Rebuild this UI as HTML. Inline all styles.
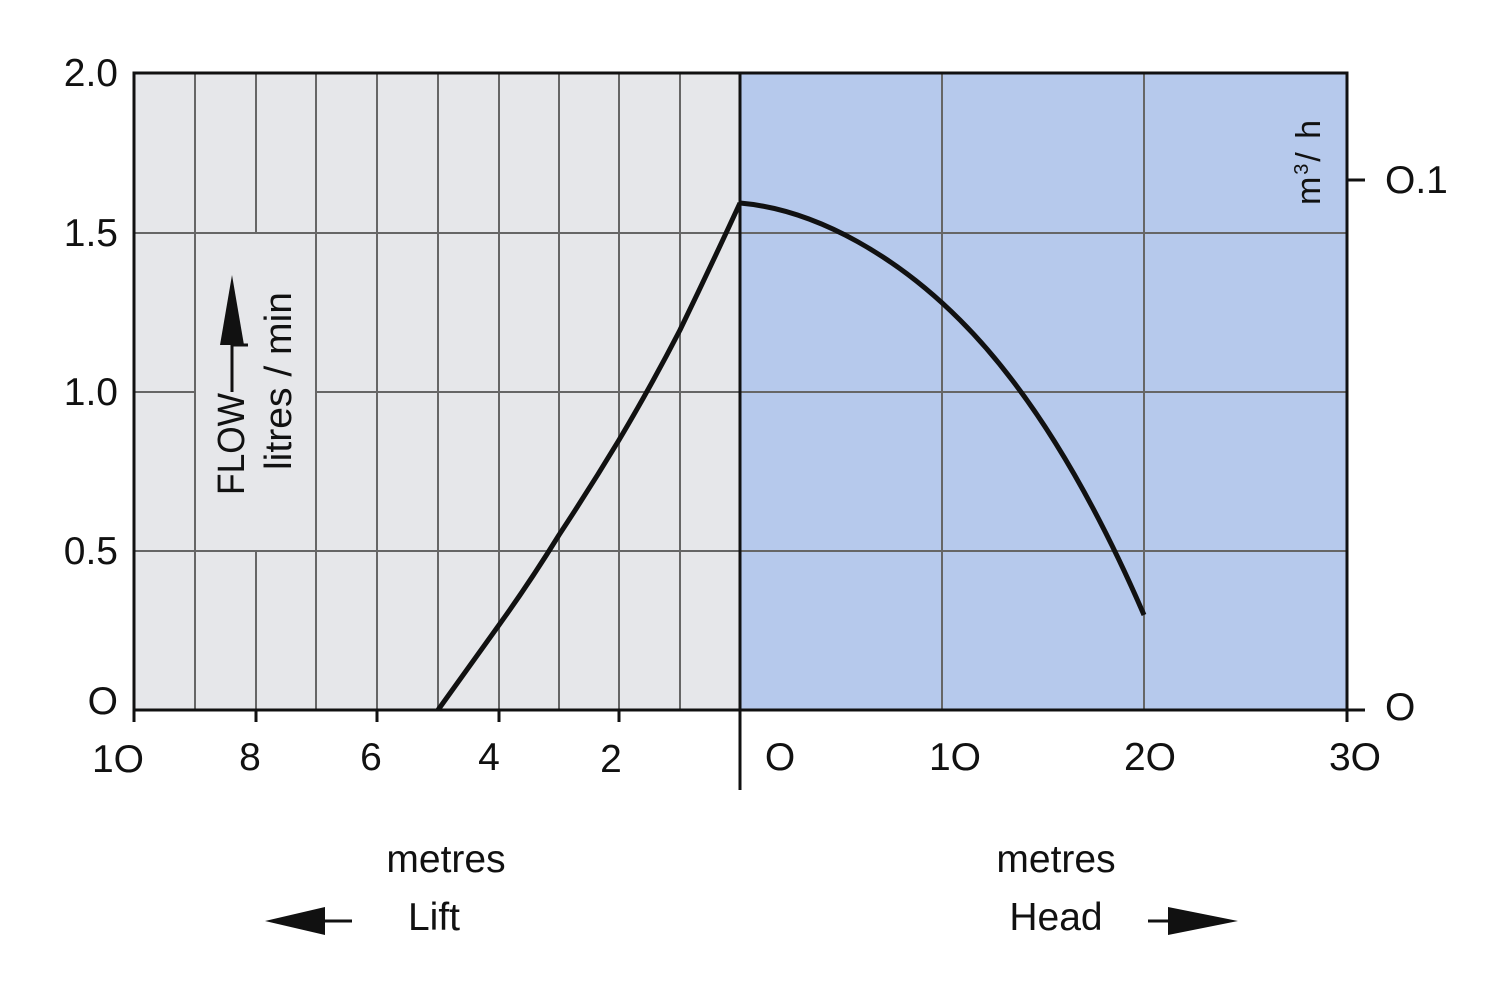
<!DOCTYPE html>
<html><head><style>body{margin:0;background:#fff}svg{display:block}text{font-family:"Liberation Sans",sans-serif;fill:#111}</style></head><body>
<svg width="1500" height="998" viewBox="0 0 1500 998">
<rect x="134" y="73" width="606" height="637" fill="#e6e7ea"/>
<rect x="740" y="73" width="607" height="637" fill="#b6c9ec"/>
<g stroke="#666" stroke-width="2">
<line x1="195" y1="73" x2="195" y2="710"/>
<line x1="256" y1="73" x2="256" y2="233"/><line x1="256" y1="551" x2="256" y2="710"/>
<line x1="316" y1="73" x2="316" y2="710"/><line x1="377" y1="73" x2="377" y2="710"/>
<line x1="438" y1="73" x2="438" y2="710"/><line x1="499" y1="73" x2="499" y2="710"/>
<line x1="559" y1="73" x2="559" y2="710"/><line x1="619" y1="73" x2="619" y2="710"/>
<line x1="680" y1="73" x2="680" y2="710"/>
<line x1="942" y1="73" x2="942" y2="710"/><line x1="1144" y1="73" x2="1144" y2="710"/>
<line x1="134" y1="233" x2="1347" y2="233"/>
<line x1="134" y1="392" x2="195" y2="392"/><line x1="316" y1="392" x2="1347" y2="392"/>
<line x1="134" y1="551" x2="1347" y2="551"/>
</g>
<g stroke="#111" stroke-width="3" fill="none">
<rect x="134" y="73" width="1213" height="637"/>
<line x1="740" y1="73" x2="740" y2="790"/>
<line x1="134" y1="710" x2="134" y2="722"/><line x1="256" y1="710" x2="256" y2="722"/>
<line x1="377" y1="710" x2="377" y2="722"/><line x1="499" y1="710" x2="499" y2="722"/>
<line x1="619" y1="710" x2="619" y2="722"/><line x1="1347" y1="710" x2="1347" y2="722"/>
<line x1="1347" y1="180" x2="1365" y2="180"/><line x1="1347" y1="710" x2="1365" y2="710"/>
<path stroke-width="5" d="M438,710 L499,625 Q530,582 559,535 Q590,488 619,440 Q650,388 680,330 Q710,268 740,203"/>
<path stroke-width="5" d="M740,203 C820,210 900,260 960,320 C1030,390 1090,490 1144,615"/>
</g>
<g font-size="39" text-anchor="end">
<text x="118" y="86">2.0</text><text x="118" y="246">1.5</text><text x="118" y="405">1.0</text><text x="118" y="564">0.5</text><text x="118" y="714">O</text>
</g>
<g font-size="39" text-anchor="middle">
<text x="118" y="772">1O</text><text x="250" y="770">8</text><text x="371" y="770">6</text><text x="489" y="770">4</text><text x="611" y="772">2</text>
<text x="780" y="770">O</text><text x="955" y="770">1O</text><text x="1150" y="770">2O</text><text x="1355" y="770">3O</text>
</g>
<text x="1385" y="193" font-size="39">O.1</text><text x="1385" y="720" font-size="39">O</text>
<text transform="translate(1320,205) rotate(-90)" font-size="34" textLength="85">m<tspan font-size="20" dy="-12">3</tspan><tspan dy="12">/ h</tspan></text>
<text transform="translate(244,495) rotate(-90)" font-size="38" textLength="102" lengthAdjust="spacingAndGlyphs">FLOW</text>
<line x1="232" y1="392" x2="232" y2="340" stroke="#111" stroke-width="3"/>
<line x1="232" y1="345" x2="248" y2="345" stroke="#111" stroke-width="3"/>
<polygon points="232,275 220,345 244,345" fill="#111"/>
<text transform="translate(291,470) rotate(-90)" font-size="38" textLength="178" lengthAdjust="spacingAndGlyphs">litres / min</text>
<text x="446" y="872" font-size="39" text-anchor="middle">metres</text>
<text x="434" y="930" font-size="39" text-anchor="middle">Lift</text>
<text x="1056" y="872" font-size="39" text-anchor="middle">metres</text>
<text x="1056" y="930" font-size="39" text-anchor="middle">Head</text>
<polygon points="265,921 325,907 325,935" fill="#111"/><line x1="320" y1="921" x2="352" y2="921" stroke="#111" stroke-width="3"/>
<polygon points="1238,921 1168,907 1168,935" fill="#111"/><line x1="1148" y1="921" x2="1175" y2="921" stroke="#111" stroke-width="3"/>
</svg>
</body></html>
